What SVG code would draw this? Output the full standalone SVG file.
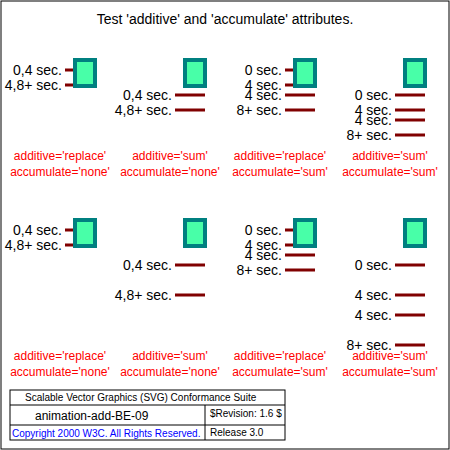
<svg xmlns="http://www.w3.org/2000/svg" width="450" height="450" viewBox="0 0 450 450">
<style>
text { font-family: "Liberation Sans", Arial, Helvetica, sans-serif; }
.title { font-size: 14px; fill: #000; text-anchor: middle; }
.lbl { font-size: 14px; fill: #000; text-anchor: end; }
.cap { font-size: 12px; fill: #ff0000; text-anchor: middle; }
.mark { stroke: #800000; stroke-width: 3; fill: none; }
.box { fill: #48ffa8; stroke: #008080; stroke-width: 4; }
.leg { font-size: 10px; fill: #000; }
</style>
<text class="title" x="225" y="24">Test 'additive' and 'accumulate' attributes.</text>

<g id="cell-1-1">
<path class="mark" d="M65 70h30M65 85h30"/>
<text class="lbl" x="62" y="75">0,4 sec.</text>
<text class="lbl" x="62" y="90">4,8+ sec.</text>
<rect class="box" x="75" y="60" width="20" height="26"/>
<text class="cap" x="60" y="160">additive='replace'</text>
<text class="cap" x="60" y="176">accumulate='none'</text>
</g>

<g id="cell-1-2">
<path class="mark" d="M175 95h30M175 110h30"/>
<text class="lbl" x="172" y="100">0,4 sec.</text>
<text class="lbl" x="172" y="115">4,8+ sec.</text>
<rect class="box" x="185" y="60" width="20" height="26"/>
<text class="cap" x="170" y="160">additive='sum'</text>
<text class="cap" x="170" y="176">accumulate='none'</text>
</g>

<g id="cell-1-3">
<path class="mark" d="M285 70h30M285 85h30M285 95h30M285 110h30"/>
<text class="lbl" x="282" y="75">0 sec.</text>
<text class="lbl" x="282" y="90">4 sec.</text>
<text class="lbl" x="282" y="100">4 sec.</text>
<text class="lbl" x="282" y="115">8+ sec.</text>
<rect class="box" x="295" y="60" width="20" height="26"/>
<text class="cap" x="280" y="160">additive='replace'</text>
<text class="cap" x="280" y="176">accumulate='sum'</text>
</g>

<g id="cell-1-4">
<path class="mark" d="M395 95h30M395 110h30M395 120h30M395 135h30"/>
<text class="lbl" x="392" y="100">0 sec.</text>
<text class="lbl" x="392" y="115">4 sec.</text>
<text class="lbl" x="392" y="125">4 sec.</text>
<text class="lbl" x="392" y="140">8+ sec.</text>
<rect class="box" x="405" y="60" width="20" height="26"/>
<text class="cap" x="390" y="160">additive='sum'</text>
<text class="cap" x="390" y="176">accumulate='sum'</text>
</g>

<g id="cell-2-1">
<path class="mark" d="M65 230h30M65 245h30"/>
<text class="lbl" x="62" y="235">0,4 sec.</text>
<text class="lbl" x="62" y="250">4,8+ sec.</text>
<rect class="box" x="75" y="220" width="20" height="26"/>
<text class="cap" x="60" y="360">additive='replace'</text>
<text class="cap" x="60" y="376">accumulate='none'</text>
</g>

<g id="cell-2-2">
<path class="mark" d="M175 265h30M175 295h30"/>
<text class="lbl" x="172" y="270">0,4 sec.</text>
<text class="lbl" x="172" y="300">4,8+ sec.</text>
<rect class="box" x="185" y="220" width="20" height="26"/>
<text class="cap" x="170" y="360">additive='sum'</text>
<text class="cap" x="170" y="376">accumulate='none'</text>
</g>

<g id="cell-2-3">
<path class="mark" d="M285 230h30M285 245h30M285 255h30M285 270h30"/>
<text class="lbl" x="282" y="235">0 sec.</text>
<text class="lbl" x="282" y="250">4 sec.</text>
<text class="lbl" x="282" y="260">4 sec.</text>
<text class="lbl" x="282" y="275">8+ sec.</text>
<rect class="box" x="295" y="220" width="20" height="26"/>
<text class="cap" x="280" y="360">additive='replace'</text>
<text class="cap" x="280" y="376">accumulate='sum'</text>
</g>

<g id="cell-2-4">
<path class="mark" d="M395 265h30M395 295h30M395 315h30M395 345h30"/>
<text class="lbl" x="392" y="270">0 sec.</text>
<text class="lbl" x="392" y="300">4 sec.</text>
<text class="lbl" x="392" y="320">4 sec.</text>
<text class="lbl" x="392" y="350">8+ sec.</text>
<rect class="box" x="405" y="220" width="20" height="26"/>
<text class="cap" x="390" y="360">additive='sum'</text>
<text class="cap" x="390" y="376">accumulate='sum'</text>
</g>

<g id="connectors"></g>

<g id="test-legend">
<rect x="10" y="390" width="275" height="50" fill="none" stroke="#000"/>
<path fill="none" stroke="#000" d="M10 405h275M205 405v35M10 425h275"/>
<text class="leg" x="25" y="401">Scalable Vector Graphics (SVG) Conformance Suite</text>
<text class="leg" x="35" y="420" style="font-size:12px">animation-add-BE-09</text>
<text class="leg" x="210" y="417">$Revision: 1.6 $</text>
<text class="leg" x="12" y="437" style="fill:#0000ff">Copyright 2000 W3C. All Rights Reserved.</text>
<text class="leg" x="210" y="436">Release 3.0</text>
</g>
<rect id="test-frame" x="1" y="1" width="448" height="448" fill="none" stroke="#000"/>
</svg>
